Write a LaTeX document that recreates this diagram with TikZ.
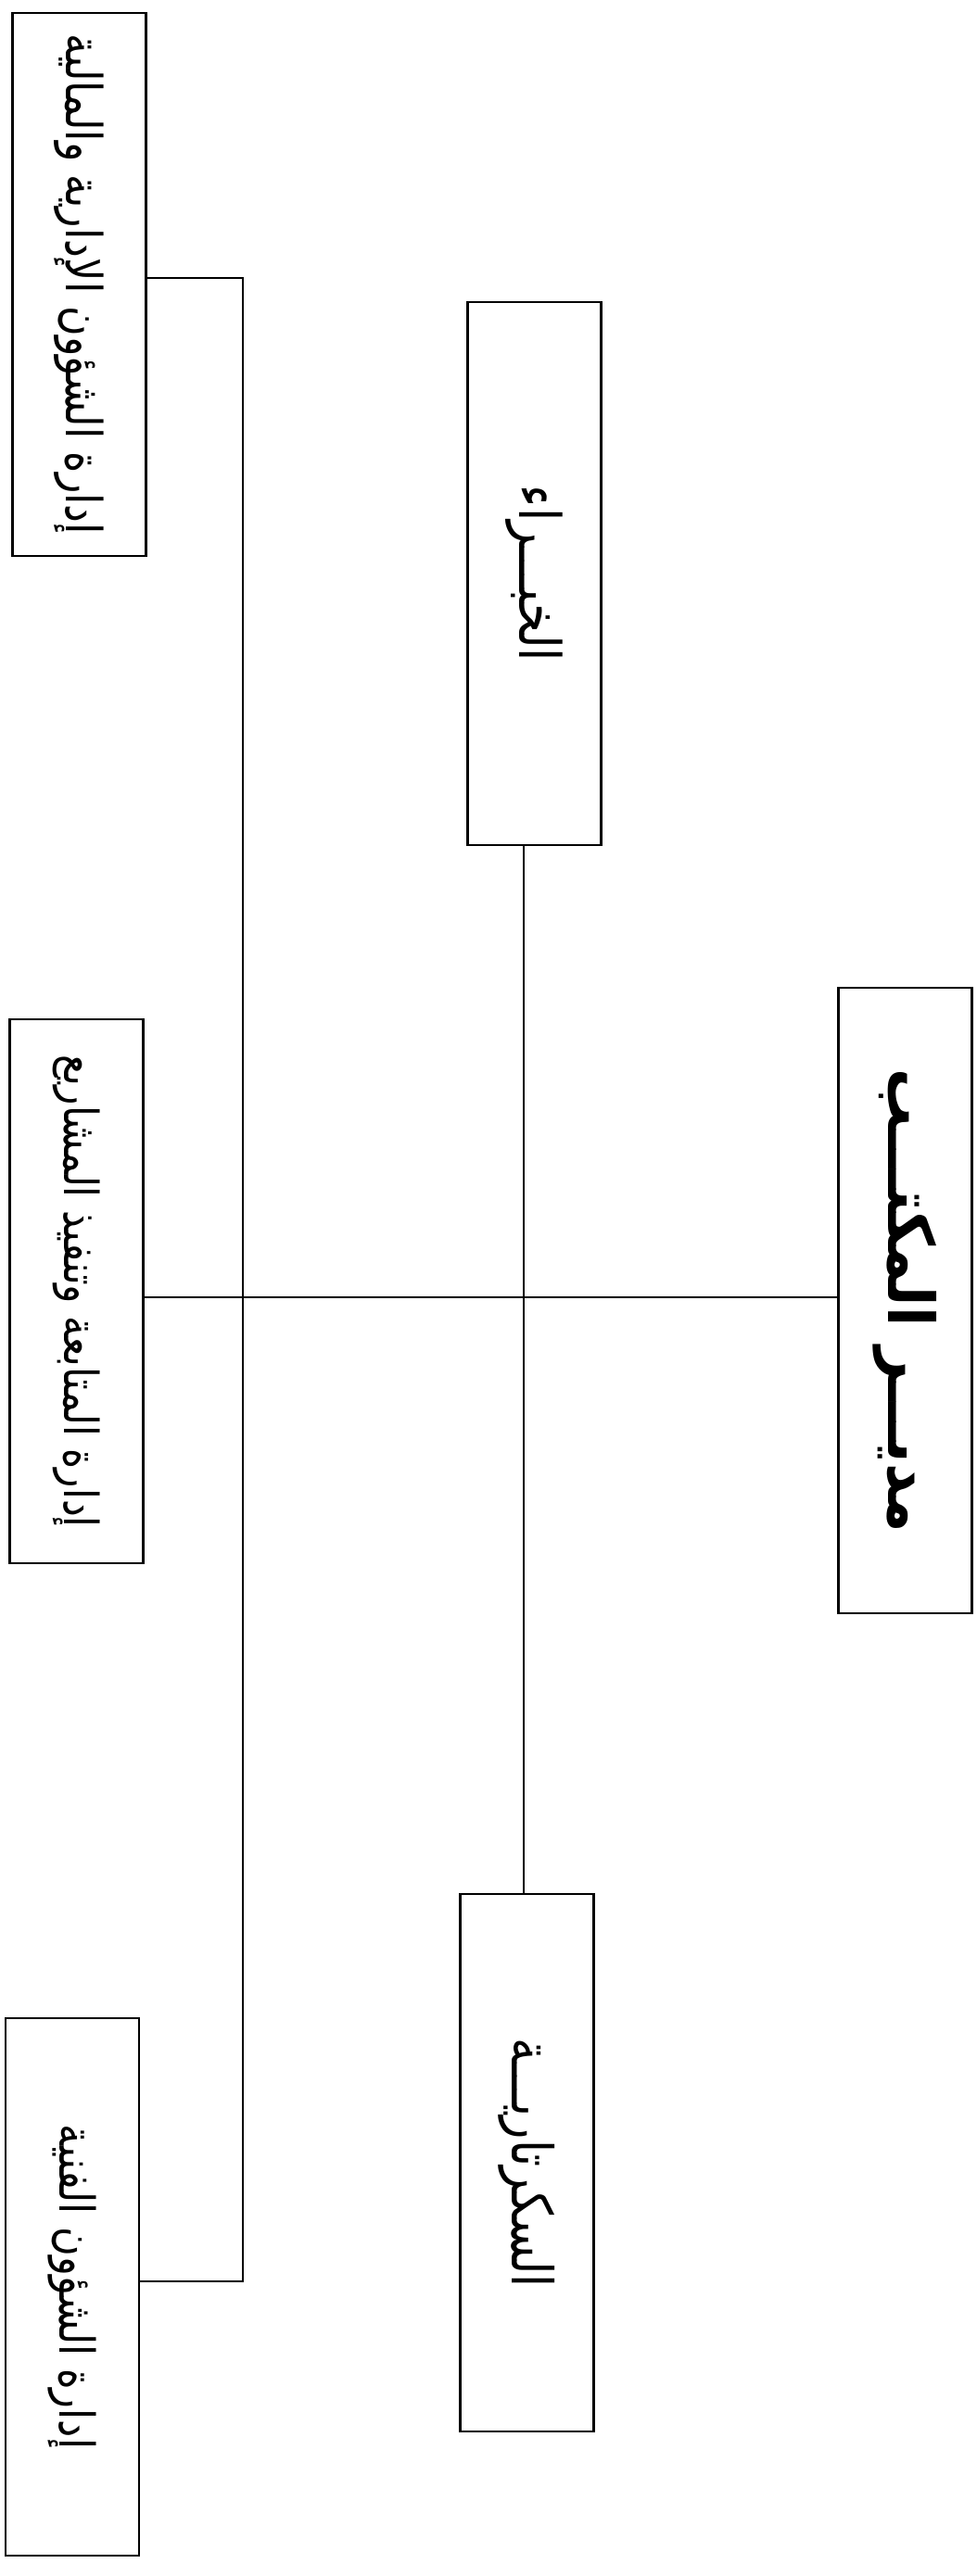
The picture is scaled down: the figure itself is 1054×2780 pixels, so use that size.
\documentclass[tikz,border=0pt]{standalone}
\usepackage{fontspec}
\usepackage{graphicx}
\newfontfamily\arabicfont[Script=Arabic]{DejaVu Sans}
\TeXXeTstate=1
\newcommand{\artext}[2]{\rotatebox{-90}{\scalebox{1}[1.2]{\resizebox{#1}{!}{\arabicfont #2}}}}
\newcommand{\artextbf}[2]{\rotatebox{-90}{\scalebox{1}[1.1]{\resizebox{#1}{!}{\arabicfont\bfseries #2}}}}
\begin{document}
\begin{tikzpicture}[x=1pt,y=-1pt,
  box/.style={draw,line width=2.6pt,inner sep=0pt,minimum width=144pt},
  conn/.style={line width=1.8pt}]
\fill[white] (0,0) rectangle (1054,2780);
\useasboundingbox (0,0) rectangle (1054,2780);
\node[box,minimum height=586pt] (b1) at (85.5,307) {\artext{540pt}{\beginR إدارة الشؤون الإدارية والمالية\endR}};
\node[box,minimum height=586pt] (b2) at (576.5,619) {\artext{190pt}{\beginR الخبـــراء\endR}};
\node[box,minimum height=587pt] (b3) at (82.5,1393.5) {\artext{510pt}{\beginR إدارة المتابعة وتنفيذ المشاريع\endR}};
\node[box,minimum height=675pt] (b4) at (976.5,1403.5) {\artextbf{500pt}{\beginR مديـــر المكتـــب\endR}};
\node[box,minimum height=580pt] (b5) at (78,2468) {\artext{350pt}{\beginR إدارة الشؤون الفنية\endR}};
\node[box,minimum height=580pt] (b6) at (568.5,2334) {\artext{270pt}{\beginR السكرتاريـــة\endR}};
\coordinate (t) at (262,300);
\coordinate (bo) at (262,2462);
\draw[conn] (b1.east |- t) -- (t) -- (bo) -- (b5.east |- bo);
\coordinate (h) at (0,1400);
\draw[conn] (b3.east |- h) -- (b4.west |- h);
\coordinate (m) at (565,0);
\draw[conn] (b2.south -| m) -- (b6.north -| m);
\end{tikzpicture}
\end{document}
